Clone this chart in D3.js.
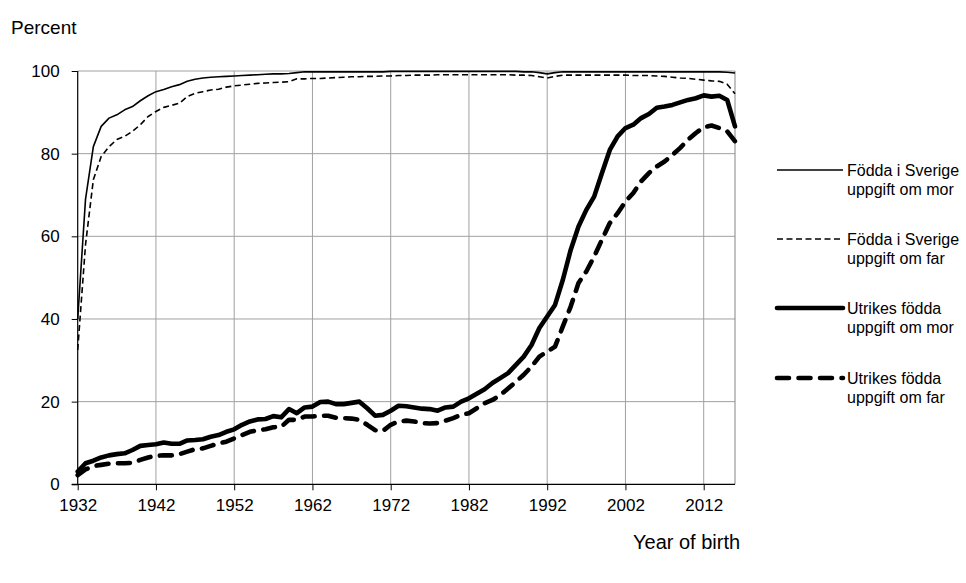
<!DOCTYPE html>
<html><head><meta charset="utf-8">
<script src="https://cdn.jsdelivr.net/npm/d3@7/dist/d3.min.js"></script>
<style>body{margin:0;background:#fff}svg{display:block}</style>
</head><body>
<svg id="c" width="966" height="583"></svg>
<script>
// Categories: year of birth 1932..2016
const years = d3.range(1932, 2017);
const xTickYears = [1932, 1942, 1952, 1962, 1972, 1982, 1992, 2002, 2012];
const yTicks = [0, 20, 40, 60, 80, 100];

const seriesNames = [
  ["Födda i Sverige", "uppgift om mor"],
  ["Födda i Sverige", "uppgift om far"],
  ["Utrikes födda", "uppgift om mor"],
  ["Utrikes födda", "uppgift om far"]
];

const svMor = [40,69,81.7,86.6,88.6,89.4,90.6,91.4,92.8,94.0,
  95.0,95.5,96.2,96.7,97.5,98.0,98.3,98.5,98.6,98.7,
  98.8,98.9,99.0,99.1,99.2,99.3,99.3,99.4,99.6,99.8,
  99.8,99.8,99.8,99.8,99.8,99.8,99.8,99.8,99.8,99.8,
  99.9,99.9,99.9,99.9,99.9,99.9,99.9,99.9,99.9,99.9,
  99.9,99.9,99.9,99.9,99.9,99.9,99.9,99.8,99.8,99.6,
  99.3,99.6,99.8,99.8,99.8,99.8,99.8,99.8,99.8,99.8,
  99.8,99.8,99.8,99.8,99.8,99.8,99.8,99.8,99.8,99.8,
  99.8,99.8,99.8,99.7,99.5];

const svFar = [32.5,58,73.7,79.3,81.7,83.4,84.2,85.4,87.0,89.0,
  90.2,91.2,91.7,92.2,93.8,94.6,95.0,95.4,95.6,96.1,
  96.4,96.6,96.8,97.0,97.1,97.2,97.3,97.4,98.1,98.1,
  98.2,98.2,98.3,98.4,98.5,98.6,98.6,98.7,98.7,98.8,
  98.8,98.9,98.9,99.0,99.0,99.0,99.1,99.1,99.1,99.1,
  99.1,99.1,99.1,99.1,99.1,99.1,99.0,99.0,98.9,98.6,
  98.3,98.7,99.0,99.0,99.0,99.0,99.0,99.0,99.0,99.0,
  99.0,98.9,98.9,98.9,98.8,98.7,98.5,98.3,98.2,98.0,
  97.8,97.6,97.5,96.8,94.5];

const utMor = [3.1,5.1,5.7,6.5,7.0,7.3,7.5,8.3,9.3,9.5,
  9.7,10.1,9.8,9.8,10.6,10.7,10.9,11.5,11.9,12.7,
  13.3,14.4,15.2,15.7,15.8,16.5,16.2,18.2,17.2,18.6,
  18.8,19.9,20.0,19.4,19.4,19.7,20.0,18.4,16.6,16.8,
  17.8,19.0,18.9,18.6,18.3,18.2,17.8,18.6,18.8,20.0,
  20.8,21.9,23.0,24.5,25.7,26.9,28.9,30.9,33.7,37.8,
  40.6,43.4,49.5,56.7,62.4,66.4,69.6,75.3,80.9,84.2,
  86.2,87.0,88.6,89.6,91.1,91.4,91.8,92.4,93.0,93.4,
  94.1,93.8,94.0,93.0,86.6];

const utFar = [2.2,3.6,4.4,4.7,5.0,5.1,5.1,5.2,5.9,6.5,
  6.9,7.0,7.0,7.3,7.9,8.5,8.7,9.3,9.9,10.3,
  11.1,11.9,12.7,13.1,13.3,13.8,13.9,15.6,15.6,16.4,
  16.4,16.6,16.6,16.1,16.0,15.9,15.6,14.4,13.1,12.9,
  14.4,15.2,15.4,15.2,14.8,14.7,14.8,15.4,16.0,16.8,
  17.2,18.4,19.6,20.4,21.6,23.2,24.8,26.5,28.5,30.9,
  32.1,33.3,38.2,43.0,48.7,51.5,55.1,59.2,63.2,65.6,
  68.4,70.5,73.3,75.3,76.9,78.1,79.7,81.4,83.4,85.0,
  86.4,86.8,86.2,85.4,83.0];

const series = [svMor, svFar, utMor, utFar];
const styles = [
  {w: 1.6, dash: null, cap: "butt"},
  {w: 1.6, dash: "6,3.5", cap: "butt"},
  {w: 4.6, dash: null, cap: "round"},
  {w: 4.6, dash: "12,9.5", cap: "round"}
];

const FONT = "'Liberation Sans', Arial, sans-serif";
const svg = d3.select("#c");
const L = 77.7, R = 735, T = 71, B = 484.3;
const x = d3.scaleLinear().domain([1932, 2016]).range([L, R]);
const y = d3.scaleLinear().domain([0, 100]).range([B, T]);

// gridlines
const grid = svg.append("g").attr("stroke", "#a0a0a0").attr("stroke-width", 1);
grid.selectAll("line.h").data(yTicks.filter(d => d > 0)).join("line")
  .attr("x1", L).attr("x2", R).attr("y1", d => y(d)).attr("y2", d => y(d));
grid.selectAll("line.v").data(xTickYears.filter(d => d > 1932)).join("line")
  .attr("x1", d => x(d)).attr("x2", d => x(d)).attr("y1", T).attr("y2", B);
grid.append("line").attr("x1", R).attr("x2", R).attr("y1", T).attr("y2", B).attr("stroke", "#858585");

// axes
const yAxis = svg.append("g").attr("transform", `translate(${L},0)`)
  .call(d3.axisLeft(y).tickValues(yTicks).tickSize(6).tickPadding(12).tickFormat(d3.format("d")));
const xAxis = svg.append("g").attr("transform", `translate(0,${B})`)
  .call(d3.axisBottom(x).tickValues(xTickYears).tickSize(6).tickPadding(9).tickFormat(d3.format("d")));
[yAxis, xAxis].forEach(a => {
  a.select(".domain").attr("stroke", "#000").attr("stroke-width", 1.2);
  a.selectAll(".tick line").attr("stroke", "#000").attr("stroke-width", 1);
  a.selectAll("text").attr("font-family", FONT).attr("font-size", 17).attr("fill", "#000");
});
yAxis.select(".domain").attr("d", `M0,${B}V${T}`);
xAxis.select(".domain").attr("d", `M${L - 6},0H${R}`);

// lines
const line = d3.line().x((d, i) => x(years[i])).y(d => y(d));
series.forEach((s, k) => {
  const st = styles[k];
  svg.append("path").datum(s)
    .attr("fill", "none").attr("stroke", "#000")
    .attr("stroke-width", st.w)
    .attr("stroke-linejoin", "round")
    .attr("stroke-linecap", st.cap)
    .attr("stroke-dasharray", st.dash)
    .attr("d", line);
});

// legend
const legY = [170, 239, 308, 378];
const leg = svg.append("g");
seriesNames.forEach((nm, k) => {
  const st = styles[k];
  const yy = legY[k];
  leg.append("line").attr("x1", 777).attr("x2", 843).attr("y1", yy).attr("y2", yy)
    .attr("stroke", "#000").attr("stroke-width", st.w)
    .attr("stroke-linecap", st.cap).attr("stroke-dasharray", st.dash);
  const t = leg.append("text").attr("font-family", FONT).attr("font-size", 16).attr("fill", "#000");
  t.append("tspan").attr("x", 847).attr("y", yy + 6).text(nm[0]);
  t.append("tspan").attr("x", 847).attr("y", yy + 25).text(nm[1]);
});

// axis titles
svg.append("text").attr("x", 11).attr("y", 34).attr("font-family", FONT).attr("font-size", 19).text("Percent");
svg.append("text").attr("x", 633).attr("y", 549).attr("font-family", FONT).attr("font-size", 20).text("Year of birth");
</script>
</body></html>
